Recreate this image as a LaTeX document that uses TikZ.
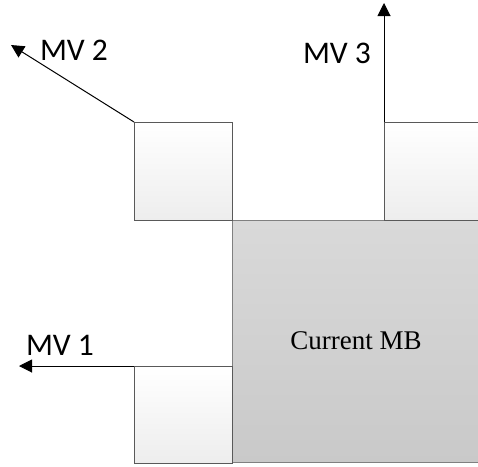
\documentclass[tikz,border=0pt]{standalone}
\usepackage{fontspec}
\setmainfont{Liberation Serif}
\newfontfamily\labelfont{Carlito}
\usetikzlibrary{arrows.meta}
\definecolor{mbtop}{HTML}{D9D9D9}
\definecolor{mbbottom}{HTML}{C9C9C9}
\definecolor{nbbottom}{HTML}{EDEDED}
\begin{document}
\begin{tikzpicture}[x=1pt,y=-1pt,
  nbbox/.style={draw=black!65, line width=0.9pt, top color=white, bottom color=nbbottom,
    minimum width=98pt, minimum height=98pt, inner sep=0pt, anchor=north west},
  mbbox/.style={draw=black!50, line width=1.3pt, top color=mbtop, bottom color=mbbottom,
    minimum width=252pt, minimum height=242pt, inner sep=0pt, anchor=north west},
  mbtext/.style={font=\fontsize{27}{30}\selectfont, inner sep=0pt},
  mvarrow/.style={line width=1pt, -{Triangle[length=13pt,width=13pt]}},
  mvlabel/.style={font=\labelfont\fontsize{31.5}{34}\selectfont, inner sep=0pt}]
\useasboundingbox (0,0) rectangle (478,466);

% current macroblock and its neighbours (right-hand ones run past the edge)
\node[mbbox] (mb) at (232,220) {};
\node[mbtext] (mbt) at (356,341) {Current MB};
\node[nbbox] (ul) at (134,122) {};
\node[nbbox, minimum width=100pt] (ur) at (384,122) {};
\node[nbbox, minimum height=97pt] (ll) at (134,366) {};

% motion vectors
\coordinate (t2) at (11,45);
\coordinate (t3) at (384,3);
\coordinate (t1) at (19,366);
\draw[mvarrow] (ul.north west) -- (t2);
\draw[mvarrow] (ur.north west) -- (t3);
\draw[mvarrow] (ll.north west) -- (t1);

\node[mvlabel] (l2) at (74,50) {MV 2};
\node[mvlabel] (l3) at (337,53) {MV 3};
\node[mvlabel] (l1) at (60,345) {MV 1};
\end{tikzpicture}
\end{document}
